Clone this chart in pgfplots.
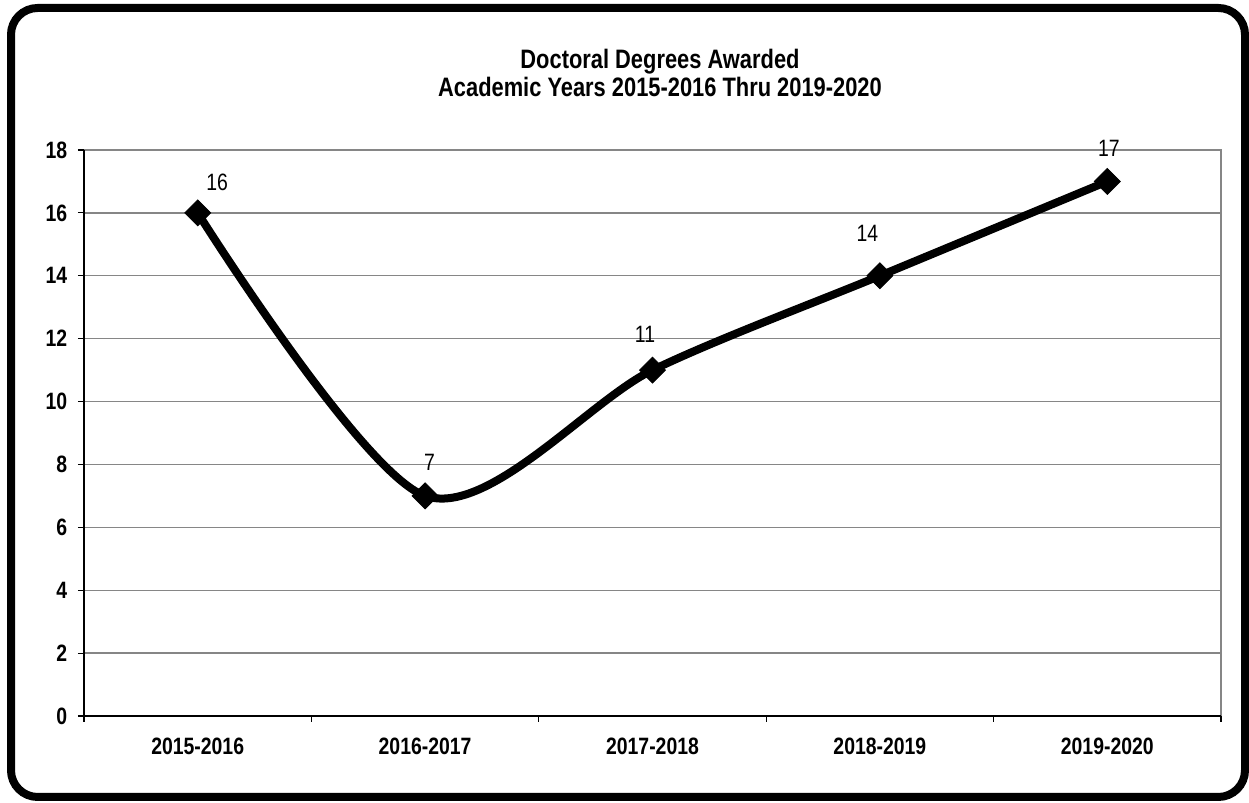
\documentclass[border=0pt]{standalone}
\usepackage{pgfplots}
\pgfplotsset{compat=1.18}
\usepackage{fontspec}
\setmainfont{Liberation Sans}[FakeStretch=0.82]
\definecolor{gridgray}{RGB}{134,134,134}
\newcommand{\chartfont}{\fontsize{14.2}{15}\selectfont}
\begin{document}
\begin{tikzpicture}[x=0.6pt,y=0.6pt]
\useasboundingbox (0,0) rectangle (1249,803);
\draw[line width=4.8pt, rounded corners=16pt] (11,6) rectangle (1245,795);
\node[align=center, font=\fontsize{16}{17}\selectfont\bfseries] at (660,730) {Doctoral Degrees Awarded\\Academic Years 2015-2016 Thru 2019-2020};
\begin{axis}[
  at={(50.4pt,52.2pt)}, anchor=south west, scale only axis,
  width=682.2pt, height=339.6pt,
  xmin=-0.5, xmax=4.5, ymin=0, ymax=18,
  ytick={0,2,...,18},
  xtick={0,1,2,3,4},
  xticklabels={2015-2016,2016-2017,2017-2018,2018-2019,2019-2020},
  minor xtick={-0.5,0.5,1.5,2.5,3.5,4.5},
  major x tick style={draw=none},
  tick align=outside, tick pos=left,
  major tick length=3.6pt, minor tick length=3.6pt,
  tick style={black, line width=0.7pt},
  ymajorgrids, grid style={gridgray, line width=0.8pt},
  axis line style={draw=none},
  /pgf/number format/assume math mode=true,
  ticklabel style={font=\chartfont\bfseries},
  yticklabel style={xshift=-3pt},
  xticklabel style={yshift=-6pt},
  clip=false,
]
\draw[gridgray, line width=1.2pt] (rel axis cs:0,1) -- (rel axis cs:1,1) -- (rel axis cs:1,0);
\draw[black, line width=1pt] (rel axis cs:0,1) -- (rel axis cs:0,0) -- (rel axis cs:1,0);
\addplot[black, line width=4.8pt, smooth, mark=square*, mark size=5.5pt,
  mark options={rotate=45, line width=0.5pt, solid}]
  coordinates {(0,16) (1,7) (2,11) (3,14) (4,17)};
\node[font=\chartfont] at (axis cs:0,16) [xshift=11.7pt, yshift=18.6pt] {16};
\node[font=\chartfont] at (axis cs:1,7) [xshift=2.7pt, yshift=20.4pt] {7};
\node[font=\chartfont] at (axis cs:2,11) [xshift=-4.5pt, yshift=21.4pt] {11};
\node[font=\chartfont] at (axis cs:3,14) [xshift=-7.5pt, yshift=25.2pt] {14};
\node[font=\chartfont] at (axis cs:4,17) [xshift=0.9pt, yshift=20pt] {17};
\end{axis}
\end{tikzpicture}
\end{document}
